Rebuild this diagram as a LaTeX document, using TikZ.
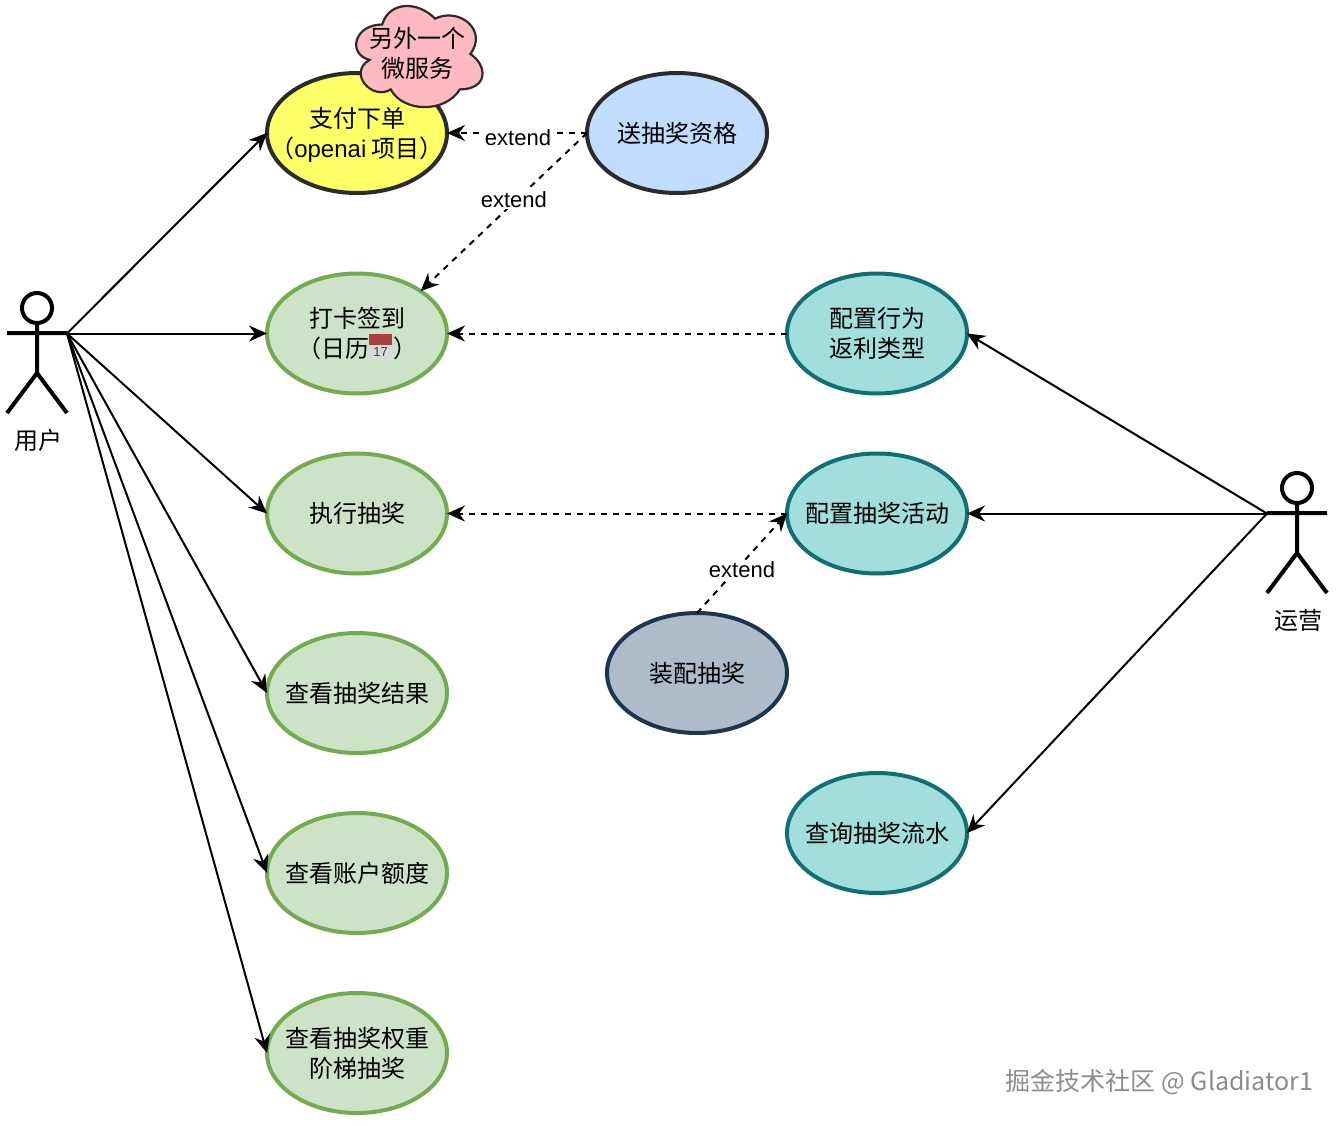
\documentclass[tikz,border=0pt]{standalone}
\usepackage{fontspec}
\setmainfont{Liberation Sans}
\newfontfamily\cjk{Noto Sans CJK SC}
\usetikzlibrary{arrows.meta,shapes.geometric}
\definecolor{gfill}{HTML}{CDE3C8}\definecolor{gline}{HTML}{75AB50}
\definecolor{tfill}{HTML}{A3DEDE}\definecolor{tline}{HTML}{0F6F73}
\definecolor{dark}{HTML}{2B2B2B}
\tikzset{
 uc/.style={ellipse,draw,line width=4pt,outer sep=0pt,minimum width=180pt,minimum height=120pt,inner xsep=-25pt,inner ysep=-5pt,align=center,font=\fontsize{24}{30}\selectfont\cjk},
 ucg/.style={uc,fill=gfill,draw=gline},
 uct/.style={uc,fill=tfill,draw=tline},
 arr/.style={line width=2pt,-{Stealth[length=18pt,width=16pt,inset=6pt]}},
 dsh/.style={arr,dash pattern=on 6pt off 6pt},
 lbl/.style={fill=white,inner sep=1pt,font=\fontsize{22}{24}\selectfont},
 stick/.style={line width=4pt},
 actlbl/.style={font=\fontsize{24}{28}\selectfont\cjk},
}
\newcommand{\stickman}[2]{%
 \draw[stick] (#1,#2-25) circle (15);
 \draw[stick] (#1-30,#2) -- (#1+30,#2) (#1,#2-10) -- (#1,#2+40) -- (#1-30,#2+80) (#1,#2+40) -- (#1+30,#2+80);
}
\newcommand{\lowerfirst}[1]{\rule{0pt}{#1pt}}
\begin{document}
\begin{tikzpicture}[x=1pt,y=-1pt]
\useasboundingbox (0,0) rectangle (1344,1126);
\stickman{37}{333}
\stickman{1297}{513}
\coordinate (userhand) at (67,333.5);
\coordinate (ophand) at (1267,513.5);
\node[actlbl] (userlabel) at (38,440) {用户};
\node[actlbl] (oplabel) at (1298,620) {运营};
\node[uc,fill={rgb,255:red,255;green,255;blue,102},draw=dark] (pay) at (357,133) {\lowerfirst{23}支付下单\\（{\normalfont openai} 项目）};
\node[uc,fill={rgb,255:red,194;green,220;blue,255},draw=dark] (gift) at (677,133) {送抽奖资格};
\node[ucg] (sign) at (357,333.5) {打卡签到\\（日历\hspace{24pt}）};
\node[ucg] (draw) at (357,513.5) {执行抽奖};
\node[ucg] (result) at (357,693) {查看抽奖结果};
\node[ucg] (quota) at (357,873) {查看账户额度};
\node[ucg] (weight) at (357,1053) {查看抽奖权重\\阶梯抽奖};
\node[uct] (rebate) at (877,333.5) {配置行为\\返利类型};
\node[uct] (activity) at (877,513.5) {配置抽奖活动};
\node[uct] (flow) at (877,833) {查询抽奖流水};
\node[uc,fill={rgb,255:red,174;green,187;blue,203},draw={rgb,255:red,30;green,53;blue,80}] (armory) at (697,673) {装配抽奖};
% cloud
\begin{scope}[shift={(347,-5)},x=141pt,y=-118pt]
\draw[fill={rgb,255:red,255;green,185;blue,193},draw=dark,line width=2.2pt]
 (0.25,0.25) .. controls (0.05,0.25) and (0,0.5) .. (0.16,0.55)
 .. controls (0,0.66) and (0.18,0.9) .. (0.31,0.8)
 .. controls (0.4,1) and (0.7,1) .. (0.8,0.8)
 .. controls (1,0.8) and (1,0.6) .. (0.875,0.5)
 .. controls (1,0.3) and (0.8,0.1) .. (0.625,0.2)
 .. controls (0.5,0.05) and (0.3,0.05) .. (0.25,0.25) -- cycle;
\end{scope}
\node[align=center,font=\fontsize{24}{30}\selectfont\cjk] (cloudtext) at (417,53) {另外一个\\微服务};
% calendar
\fill[gray!30] (369,335) rectangle (392,361);
\fill[red!55!black!75] (369,334) rectangle (392,345);
\node[inner sep=0pt,font=\fontsize{13}{13}\selectfont,text=black!75] (calnum) at (380.5,352) {17};
% connectors
\draw[arr] (userhand) -- (pay.west);
\draw[arr] (userhand) -- (sign.west);
\draw[arr] (userhand) -- (draw.west);
\draw[arr] (userhand) -- (result.west);
\draw[arr] (userhand) -- (quota.west);
\draw[arr] (userhand) -- (weight.west);
\draw[arr] (ophand) -- (rebate.east);
\draw[arr] (ophand) -- (activity.east);
\draw[arr] (ophand) -- (flow.east);
\draw[dsh] (gift.west) -- node[lbl,pos=.5,xshift=1pt,yshift=-5pt] {extend} (pay.east);
\draw[dsh] (gift.west) -- node[lbl,pos=.44,yshift=3pt] {extend} (sign.north east);
\draw[dsh] (rebate.west) -- (sign.east);
\draw[dsh] (activity.west) -- (draw.east);
\draw[dsh] (armory.north) -- node[lbl,pos=.5,yshift=-6pt] {extend} (activity.west);
\node[inner sep=0pt,text=black!45,font=\fontsize{25}{26}\selectfont\cjk] (mark) at (1159.5,1082) {掘金技术社区 @ Gladiator1};
\end{tikzpicture}
\end{document}
